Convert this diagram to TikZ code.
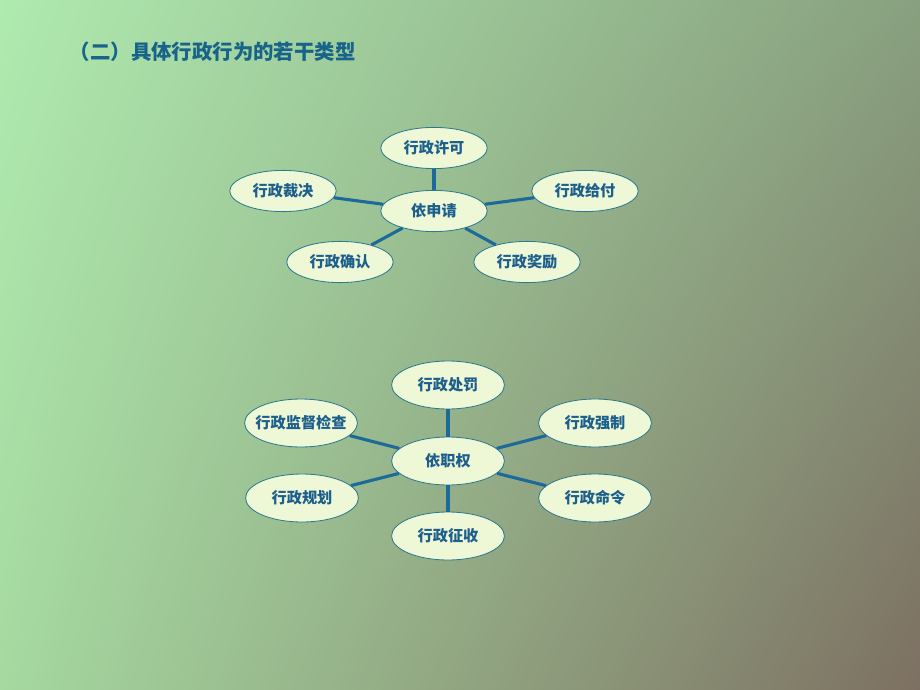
\documentclass[tikz,border=0pt]{standalone}
\usepackage{fontspec}
\usepackage{tikz}
\usetikzlibrary{positioning,shapes.geometric,shadings}
\newfontfamily\cjk{Noto Sans CJK SC}
\definecolor{bgtl}{HTML}{AFEAAF}
\definecolor{bgtr}{HTML}{88A07F}
\definecolor{bgbl}{HTML}{A5D9A0}
\definecolor{bgbr}{HTML}{7D7062}
\definecolor{linkblue}{HTML}{1B6A9A}
\definecolor{rimteal}{HTML}{2C7C8E}
\definecolor{textblue}{HTML}{1C5E8C}
\definecolor{fillcream}{HTML}{EEF7D6}

\begin{document}
\begin{tikzpicture}[x=0.025cm, y=-0.025cm,
  act/.style={ellipse, draw=rimteal, line width=0.6pt, fill=fillcream, inner sep=0pt,
              minimum width=2.66cm, minimum height=1.03cm,
              font=\cjk\bfseries\fontsize{10.8}{12}\selectfont, text=textblue},
  big/.style={act, minimum width=2.82cm, minimum height=1.2cm},
  link/.style={draw=linkblue, line width=2.2pt}
]
  % background
  \shade[upper left=bgtl, upper right=bgtr, lower left=bgbl, lower right=bgbr]
    (0,0) rectangle (920,690);

  % title
  \node[anchor=west, font=\cjk\bfseries\fontsize{14.5}{16}\selectfont, text=textblue!85!teal]
    (title) at (65,52) {（二）具体行政行为的若干类型};

  % 依申请 group
  \node[act] (shenqing) at (434,211) {依申请};
  \node[act] (xuke)     at (434,148) {行政许可};
  \node[act] (caijue)   at (283,191) {行政裁决};
  \node[act] (geifu)    at (585,191) {行政给付};
  \node[act] (queren)   at (340,262) {行政确认};
  \node[act] (jiangli)  at (527,262) {行政奖励};
  \foreach \n in {xuke,caijue,geifu,queren,jiangli}
    \draw[link] (shenqing) -- (\n);

  % 依职权 group
  \node[big] (zhiquan) at (448,461) {依职权};
  \node[big] (chufa)   at (448,385) {行政处罚};
  \node[big, inner xsep=-5pt] (jiandu) at (301,423) {行政监督检查};
  \node[big] (qiangzhi) at (595,423) {行政强制};
  \node[big] (guihua)  at (302,498) {行政规划};
  \node[big] (mingling) at (595,498) {行政命令};
  \node[big] (zhengshou) at (448,536) {行政征收};
  \foreach \n in {chufa,jiandu,qiangzhi,guihua,mingling,zhengshou}
    \draw[link] (zhiquan) -- (\n);
\end{tikzpicture}
\end{document}
